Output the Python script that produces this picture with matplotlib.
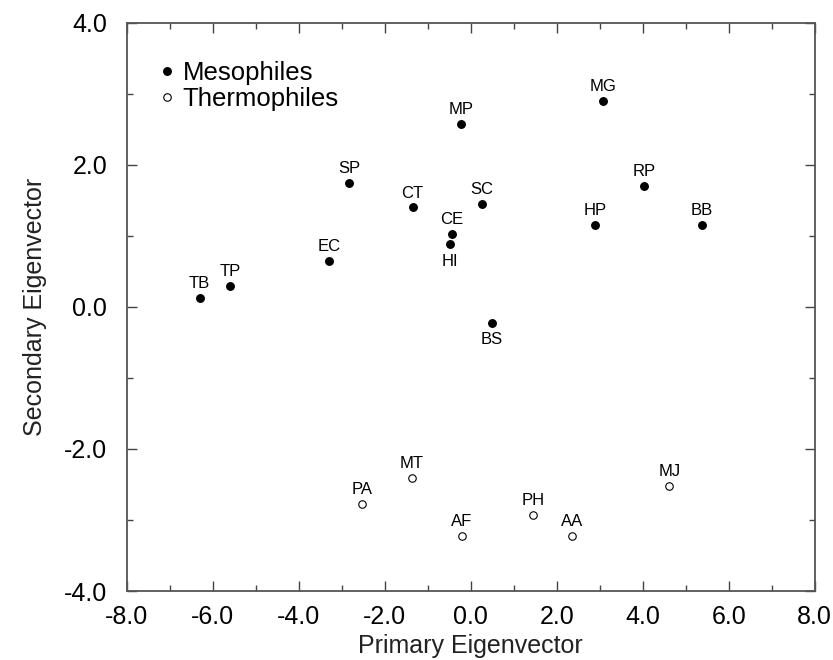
import matplotlib.pyplot as plt
from matplotlib.ticker import MultipleLocator

plt.rcParams['font.family'] = ['Liberation Sans', 'DejaVu Sans']

# mesophiles
meso_names = ['TB', 'TP', 'EC', 'SP', 'CT', 'MP', 'CE', 'HI', 'SC', 'BS', 'MG', 'HP', 'RP', 'BB']
meso_x = [-6.30, -5.60, -3.30, -2.83, -1.35, -0.23, -0.44, -0.49, 0.26, 0.50, 3.08, 2.89, 4.03, 5.38]
meso_y = [0.13, 0.30, 0.65, 1.75, 1.40, 2.57, 1.03, 0.88, 1.45, -0.22, 2.90, 1.15, 1.70, 1.15]

# thermophiles
thermo_names = ['PA', 'MT', 'AF', 'PH', 'AA', 'MJ']
thermo_x = [-2.53, -1.37, -0.20, 1.46, 2.36, 4.62]
thermo_y = [-2.77, -2.41, -3.23, -2.93, -3.23, -2.52]

below = ['HI', 'BS']

fig = plt.figure(figsize=(8.33, 6.60), dpi=100)
ax = fig.add_axes([0.152, 0.1045, 0.826, 0.861])

ax.plot(meso_x, meso_y, 'o', color='black', markersize=5.4, label='Mesophiles')
ax.plot(thermo_x, thermo_y, 'o', markerfacecolor='white', markeredgecolor='black',
        markeredgewidth=0.8, markersize=5.4, label='Thermophiles')

for n, x, y in zip(meso_names + thermo_names, meso_x + thermo_x, meso_y + thermo_y):
    if n in below:
        ax.annotate(n, (x, y), xytext=(0, -7), textcoords='offset points',
                    ha='center', va='top', fontsize=12)
    else:
        ax.annotate(n, (x, y), xytext=(0, 5), textcoords='offset points',
                    ha='center', va='bottom', fontsize=12)

ax.set_xlim(-8, 8)
ax.set_ylim(-4, 4)
ax.xaxis.set_major_locator(MultipleLocator(2))
ax.xaxis.set_minor_locator(MultipleLocator(1))
ax.yaxis.set_major_locator(MultipleLocator(2))
ax.yaxis.set_minor_locator(MultipleLocator(1))
ax.xaxis.set_major_formatter(lambda v, p: f'{v:.1f}')
ax.yaxis.set_major_formatter(lambda v, p: f'{v:.1f}')
ax.tick_params(which='both', direction='in', top=True, right=True, labelsize=18,
               color='#444444')
ax.tick_params(which='major', length=7, width=1)
ax.tick_params(which='minor', length=4, width=1)
ax.tick_params(axis='x', which='major', pad=10)
ax.tick_params(axis='y', which='major', pad=14)
for s in ax.spines.values():
    s.set_color('#555555')
    s.set_linewidth(1.3)

ax.set_xlabel('Primary Eigenvector', fontsize=18, color='#222222', labelpad=4)
ax.set_ylabel('Secondary Eigenvector', fontsize=18, color='#222222', labelpad=12)

ax.legend(loc='upper left', bbox_to_anchor=(0.022, 0.965), frameon=False, fontsize=18.5,
          handlelength=0.6, handletextpad=0.3, labelspacing=0.1, borderaxespad=0.3)

fig.savefig('out.png', dpi=100)
